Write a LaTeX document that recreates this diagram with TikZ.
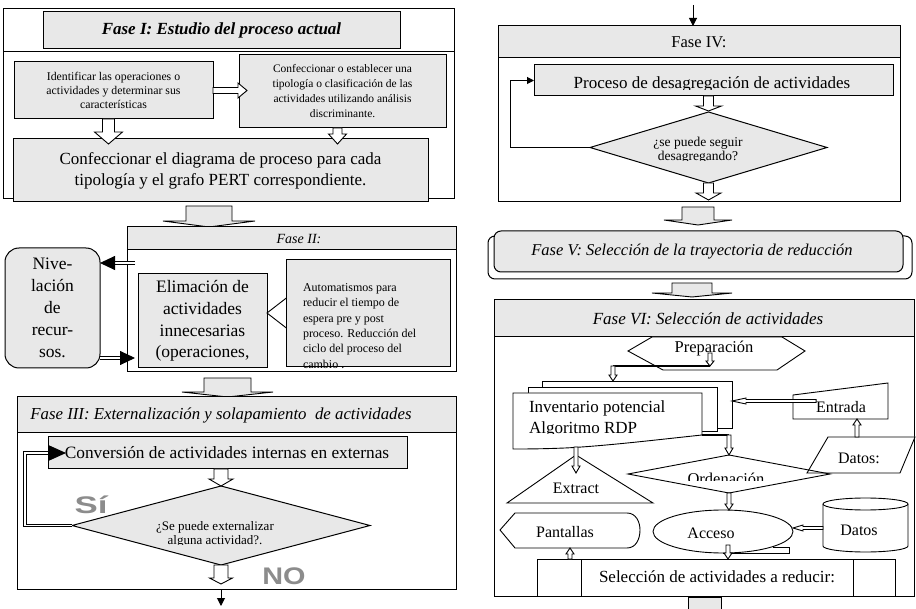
\documentclass[tikz,border=0pt]{standalone}
\usepackage{fontspec}
\setmainfont{Liberation Serif}
\newfontfamily\yesnofont{Liberation Sans}
\usetikzlibrary{calc,shapes.geometric,arrows.meta}
\definecolor{boxgray}{RGB}{232,232,232}
\definecolor{markgray}{RGB}{140,140,140}
\newcommand{\fsz}[2]{\fontsize{#1}{#2}\selectfont}
% rectangle node from corners: [style]{name}{x1}{y1}{x2}{y2}{text}
\newcommand{\rect}[7][]{\node[#1, minimum width={#5pt-#3pt}, minimum height={#6pt-#4pt}] (#2) at ({(#3+#5)/2},{(#4+#6)/2}) {#7};}
% block arrow: [fill]{from}{to}{half shaft}{half head}{head length}
\newcommand{\barrow}[6][white]{%
  \coordinate (tmphb) at ($#3!#6!#2$);
  \draw[line width=0.9pt, fill=#1] ($#2!#4!90:#3$) -- ($(tmphb)!#4!90:#3$) -- ($(tmphb)!#5!90:#3$) -- #3 -- ($(tmphb)!#5!-90:#3$) -- ($(tmphb)!#4!-90:#3$) -- ($#2!#4!-90:#3$) -- cycle;}
\tikzset{
  every node/.style={inner sep=0pt, outer sep=0pt},
  frame/.style={draw, line width=1pt, fill=white},
  graybox/.style={draw, line width=1pt, fill=boxgray},
  thinbox/.style={draw, line width=0.9pt, fill=white},
  dblarrow/.style={double, double distance=1.8pt, line width=0.9pt, -{Triangle[length=15pt, width=14pt]}},
  plainarrow/.style={line width=1pt, -{Triangle[length=8pt, width=8pt]}},
  thickline/.style={line width=2.2pt},
  yesno/.style={font={\yesnofont\bfseries\fsz{24}{24}}, text=markgray},
}
\begin{document}
\begin{tikzpicture}[x=1pt, y=-1pt]
\useasboundingbox (0,0) rectangle (916,609);

% ================= Fase I
\rect[frame]{f1o}{3}{9}{454}{199}{}
\draw[line width=1pt] (3,52) -- (454,52);
\rect[graybox, font={\fsz{17}{20}\bfseries\itshape}]{f1t}{43}{12}{400}{49}{Fase I: Estudio del proceso actual}
\rect[graybox, font=\fsz{11.8}{14}, align=center]{f1a}{14}{62}{213}{119}{Identificar las operaciones o\\actividades y determinar sus\\características}
\rect[graybox, font=\fsz{11.5}{15}, align=center]{f1b}{239}{55}{446}{128}{Confeccionar o establecer una\\tipología o clasificación de las\\actividades utilizando análisis\\discriminante.}
\rect[graybox, font=\fsz{17}{21}, align=center]{f1c}{13}{139}{428}{202}{Confeccionar el diagrama de proceso para cada\\tipología y el grafo PERT correspondiente.}
\barrow{(f1a.east)}{($(f1b.west |- f1a.east)+(8,0)$)}{3pt}{7.5pt}{9pt}
\barrow{($(f1a.south)+(-5,0)$)}{($(f1c.north -| f1a.south)+(-5,5)$)}{6pt}{14pt}{12pt}
\barrow{($(f1b.south)+(-5,0)$)}{($(f1c.north -| f1b.south)+(-5,5)$)}{4.5pt}{9pt}{10pt}

% phase arrow I -> II
\coordinate (a12) at (209,206);
\barrow[boxgray]{(a12)}{(a12 |- 0,227)}{23pt}{46pt}{6pt}

% ================= Fase II
\rect[frame]{f2o}{127}{227}{456}{372}{}
\rect[graybox]{f2t}{127}{227}{456}{250}{}
\node[font={\fsz{14}{17}\itshape}] (f2tt) at (299,239) {Fase II:};
\rect[graybox, font=\fsz{17.5}{21.7}, align=center]{f2a}{138}{274}{267}{368}{Elimación de\\actividades\\innecesarias\\(operaciones,}
\barrow{($(f2a.east |- 0,313)+(24,0)$)}{(f2a.east |- 0,313)}{5.5pt}{15.5pt}{20pt}
\rect[graybox]{f2b}{286}{260}{450}{367}{}
\node[font=\fsz{12}{15.3}, align=left, anchor=west] (f2bt) at (303,326) {Automatismos para\\reducir el tiempo de\\espera pre y post\\proceso. Reducción del\\ciclo del proceso del\\cambio .};
\node[draw, line width=1pt, fill=boxgray, rounded corners=14pt, minimum width=95pt, minimum height=120pt, font=\fsz{17.5}{22}, align=center] (niv) at (52.5,308) {Nive-\\lación\\de\\recur-\\sos.};
\coordinate (n1) at ($(f2o.north west)+(8,36)$);
\coordinate (n2) at ($(f2o.south west)+(8,-14)$);
\draw[dblarrow] (n1) -- (n1 -| niv.east);
\draw[dblarrow] (n2 -| niv.east) -- (n2);

% phase arrow II -> III
\coordinate (a23) at (227.5,378);
\barrow[boxgray]{(a23)}{(a23 |- 0,397)}{23.5pt}{45.5pt}{5pt}

% ================= Fase III
\rect[frame]{f3o}{17}{397}{456}{589}{}
\rect[graybox]{f3t}{17}{397}{456}{433}{}
\node[font={\fsz{16.8}{19}\itshape}] (f3tt) at (221,415) {Fase III: Externalización y solapamiento\ \ de actividades};
\rect[graybox]{f3a}{48}{437}{407}{469}{}
\node[font=\fsz{17.3}{19}] (f3at) at (227,453) {Conversión de actividades internas en externas};
\node[diamond, draw, line width=1pt, fill=boxgray, minimum width=298pt, minimum height=79pt] (f3d) at (221,525.5) {};
\begin{scope}
\clip (100,500) rectangle (340,544.5);
\node[font=\fsz{13}{14}, align=center] (f3dt) at (215,534) {¿Se puede externalizar\\alguna actividad?.};
\end{scope}
\barrow{(f3a.south -| f3d.north)}{(f3d.north)}{7pt}{12pt}{7pt}
\barrow{(f3d.south)}{($(f3d.south)+(0,19)$)}{7pt}{11.5pt}{6pt}
\draw[double, double distance=1.8pt, line width=0.9pt, -{Triangle[length=18pt, width=16pt]}] (f3d.west) -- ++(-47,0) |- ($(f3a.west)+(18,0)$);
\node[yesno, xscale=1.45] (si) at (91,505) {Sí};
\node[yesno, xscale=1.2] (no) at (284,576) {NO};
\draw[plainarrow] (f3o.south -| f3d.south) -- ++(0,17);

% ================= Fase IV
\coordinate (in4) at (693,5);
\draw[plainarrow] (in4) -- (in4 |- 0,26);
\rect[frame]{f4o}{498}{26}{900}{202}{}
\rect[graybox, font=\fsz{16.5}{18}]{f4t}{498}{26}{900}{58}{Fase IV:}
\rect[graybox]{f4a}{534}{65}{893}{96}{}
\begin{scope}
\clip (534,65) rectangle (893,89.5);
\node[font=\fsz{17}{19}, anchor=base] (f4at) at (712,88.5) {Proceso de desagregación de actividades};
\end{scope}
\node[diamond, draw, line width=1pt, fill=boxgray, minimum width=237pt, minimum height=71pt] (f4d) at (708.5,147.5) {};
\begin{scope}
\clip (600,120) rectangle (820,161);
\node[font=\fsz{13.5}{14}, align=center] (f4dt) at (698,150) {¿se puede seguir\\desagregando?};
\end{scope}
\barrow{(f4a.south -| f4d.north)}{($(f4d.north)+(0,-1)$)}{5pt}{13pt}{5pt}
\barrow{(f4d.south)}{($(f4d.south |- f4o.south)+(0,-2)$)}{5pt}{12.5pt}{7pt}
\draw[line width=1pt, -{Triangle[length=7pt, width=7pt]}] (f4d.west) -- ++(-80,0) |- (f4a.west);

% phase arrow IV -> V
\coordinate (a45) at (698,207);
\barrow[boxgray]{(a45)}{(a45 |- 0,225)}{16pt}{34pt}{5pt}

% ================= Fase V
\rect[draw, line width=1pt, fill=white, rounded corners=7pt]{f5o}{488}{236}{912}{279}{}
\rect[draw, line width=1pt, fill=boxgray, rounded corners=7pt]{f5}{494}{231}{903}{272}{}
\node[font={\fsz{16.5}{18}\itshape}] (f5t) at (692,252) {Fase V: Selección de la trayectoria de reducción};

% phase arrow V -> VI
\coordinate (a56) at (692,283);
\barrow[boxgray]{(a56)}{(a56 |- 0,297)}{20pt}{40pt}{4pt}

% ================= Fase VI
\rect[frame]{f6o}{494}{300}{914}{596}{}
\rect[graybox]{f6t}{494}{300}{914}{337}{}
\node[font={\fsz{17}{18}\itshape}] (f6tt) at (708,319) {Fase VI: Selección de actividades};

% Preparación
\draw[thinbox] (628,351) -- (652,337) -- (782,337) -- (805,351) -- (777,370) -- (663,370) -- cycle;
\node[font=\fsz{16.5}{19}] (prep) at (714,349) {Preparación};

% multi document
\rect[thinbox]{docc}{542}{381}{732}{428}{}
\rect[thinbox]{docb}{528}{387}{717}{431}{}
\draw[thinbox] (513,393) -- (702,393) -- (702,435) .. controls (655,440) and (605,446) .. (565,448) .. controls (540,449) and (525,449) .. (513,449) -- cycle;
\begin{scope}
\clip (513,393) rectangle (702,433.5);
\node[font=\fsz{17}{21}, align=left, anchor=west] (inv) at (529,419) {Inventario potencial\\Algoritmo RDP};
\end{scope}

% Entrada (manual input)
\draw[thinbox] (793,395) -- (888,383) -- (888,419) -- (793,419) -- cycle;
\node[font=\fsz{16}{19}] (entr) at (841,407) {Entrada};
% Datos: (data)
\draw[thinbox] (807,473) -- (828,437) -- (915,437) -- (900,473) -- cycle;
\node[font=\fsz{16}{19}] (dat1) at (859,458) {Datos:};
% Ordenación diamond
\node[diamond, draw, line width=0.9pt, minimum width=202pt, minimum height=38pt] (ord) at (729,474) {};
\begin{scope}
\clip (628,455) rectangle (830,480.5);
\node[font=\fsz{16.5}{19}, anchor=base] (ordt) at (726,484) {Ordenación};
\end{scope}
% Extract triangle
\draw[thinbox] (576,455) -- (653,503) -- (507,503) -- cycle;
\node[font=\fsz{16}{19}] (ext) at (576,488) {Extract};
% Pantallas (display)
\draw[thinbox] (500,530) -- (515,513) -- (627,513) .. controls (636,513) and (640,522) .. (640,530) .. controls (640,539) and (636,548) .. (627,548) -- (515,548) -- cycle;
\node[font=\fsz{16}{19}] (pant) at (565,532) {Pantallas};
% Acceso (sequential storage)
\node[ellipse, draw, line width=0.9pt, minimum width=140pt, minimum height=43pt] (acc) at (723,531.5) {};
\draw[line width=0.9pt] (acc.south) -- (789,553) -- (789,547) -- (773,547);
\node[font=\fsz{16}{19}] (acct) at (711,533) {Acceso};
% Datos cylinder
\draw[thinbox] (823,504) -- (823,546) arc[start angle=180, end angle=0, x radius=42.5, y radius=6] -- (908,504) arc[start angle=0, end angle=-180, x radius=42.5, y radius=6] -- cycle;
\draw[line width=0.9pt] (823,504) arc[start angle=180, end angle=0, x radius=42.5, y radius=6];
\node[font=\fsz{16}{19}] (cyl) at (859,530) {Datos};
% Selección (predefined process)
\rect[thinbox]{sel}{537}{559}{895}{596}{}
\draw[line width=0.9pt] (581,559) -- (581,596) (853,559) -- (853,596);
\node[font=\fsz{17}{18}] (selt) at (717,577) {Selección de actividades a reducir:};

% connectors in Fase VI
\coordinate (pp1) at (710,353);
\coordinate (pp2) at (710,366);
\coordinate (pp3) at (613,366);
\barrow{(pp1)}{(pp2)}{2pt}{4pt}{5pt}
\draw[thickline] (pp2) -- (pp3);
\barrow{(pp3)}{(pp3 |- docc.north)}{2pt}{4pt}{6pt}
\barrow{(entr.west |- 0,401)}{(docc.east |- 0,401)}{1.5pt}{3pt}{14pt}
\barrow{(857,437)}{(857,419)}{2pt}{4pt}{6pt}
\coordinate (dd1) at (702,435);
\draw[thickline] (dd1) -- (dd1 -| ord.north);
\barrow{(dd1 -| ord.north)}{(ord.north)}{2pt}{4pt}{7pt}
\barrow{(576,447)}{(576,473)}{2pt}{4pt}{7pt}
\barrow{(ord.south)}{(ord.south |- acc.north)}{2pt}{4pt}{6pt}
\barrow{(823,528)}{(acc.east |- 0,528)}{1.5pt}{3pt}{10pt}
\barrow{(728,545)}{(728,559)}{2pt}{4pt}{6pt}
\barrow{(570,559)}{(570,548)}{2pt}{4pt}{6pt}

% stub of the next arrow
\draw[line width=1pt, fill=boxgray] (688,597) rectangle (721,615);
\end{tikzpicture}
\end{document}
